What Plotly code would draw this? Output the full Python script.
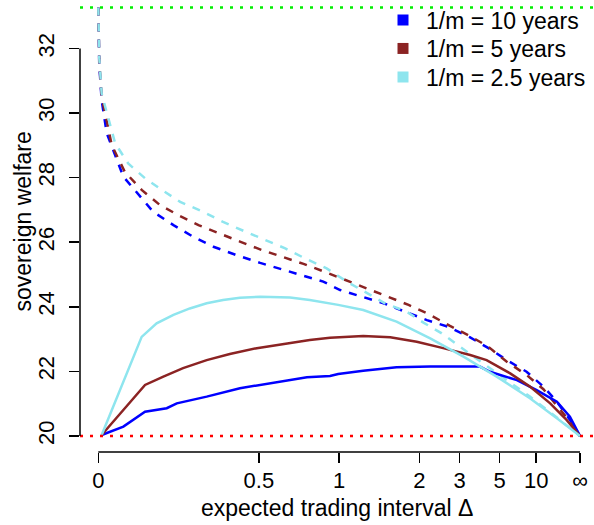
import math
import plotly.graph_objects as go

# ---------------- data ----------------
x_tick_vals = [0, 0.5, 1, 2, 3, 5, 10, float("inf")]
x_tick_text = ["0", "0.5", "1", "2", "3", "5", "10", "∞"]
y_tick_vals = [20, 22, 24, 26, 28, 30, 32]

first_best = 33.27
autarky = 20.0

series_names = ["1/m = 10 years", "1/m = 5 years", "1/m = 2.5 years"]
series_colors = ["#0000FF", "#8B2323", "#8EE5EE"]

# dashed curves (expected trading interval, welfare)
blue_dash_d = [0, 0.002, 0.007, 0.0177, 0.0549, 0.0953, 0.1287, 0.1848, 0.2453, 0.314, 0.4025, 0.506,
               0.7212, 0.8762, 1.008, 1.2075, 1.451, 1.755, 2.145, 2.663, 3.367, 4.263, 5.579, 8.009,
               12.16, 19.83, 46.6, float("inf")]
blue_dash_v = [33.27, 31.5, 30.4, 29.38, 28.03, 27.41, 26.94, 26.53, 26.17, 25.86, 25.60, 25.36,
               24.98, 24.78, 24.52, 24.31, 24.11, 23.85, 23.59, 23.38, 23.06, 22.72, 22.35, 21.99,
               21.53, 21.06, 20.50, 20.0]

brown_dash_d = [0, 0.002, 0.007, 0.0288, 0.0582, 0.0989, 0.1468, 0.199, 0.2626, 0.3316, 0.4164, 0.5129,
                0.6234, 0.7422, 0.9011, 1.278, 1.494, 1.809, 2.175, 2.704, 3.367, 4.263, 5.579, 8.009,
                12.16, 19.83, 46.6, float("inf")]
brown_dash_v = [33.27, 31.6, 30.5, 29.0, 28.18, 27.62, 27.15, 26.84, 26.53, 26.28, 26.02, 25.76,
                25.55, 25.33, 25.06, 24.54, 24.31, 24.06, 23.78, 23.41, 23.10, 22.76, 22.30, 21.89,
                21.45, 20.95, 20.45, 20.0]

cyan_dash_d = [0, 0.002, 0.007, 0.0363, 0.0661, 0.1074, 0.1521, 0.2048, 0.2788, 0.3495, 0.4388, 0.5291,
               0.634, 0.7513, 0.9011, 1.066, 1.469, 1.778, 2.077, 2.484, 3.016, 4.78, 8.615, 19.83,
               float("inf")]
cyan_dash_v = [33.27, 31.7, 30.6, 29.06, 28.44, 27.98, 27.62, 27.25, 26.94, 26.63, 26.33, 26.07,
               25.81, 25.50, 25.19, 24.78, 24.11, 23.85, 23.51, 23.18, 22.76, 21.95, 21.22, 20.57,
               20.0]

# solid curves
blue_solid_d = [0.007, 0.0549, 0.1074, 0.1655, 0.1947, 0.2903, 0.4164, 0.5699, 0.7637, 0.9268, 0.992,
                1.222, 1.625, 2.215, 3.808, 4.348, 6.634, 10.11, 19.83, 46.6, float("inf")]
blue_solid_v = [20.03, 20.29, 20.75, 20.86, 21.01, 21.22, 21.48, 21.65, 21.82, 21.86, 21.92,
                22.02, 22.13, 22.15, 22.15, 21.99, 21.73, 21.42, 21.06, 20.60, 20.0]

brown_solid_d = [0.007, 0.0787, 0.1074, 0.1561, 0.2136, 0.2903, 0.3755, 0.4903, 0.6234, 0.7825, 0.9268,
                 1.222, 1.538, 1.95, 2.521, 3.386, 4.155, 5.897, 8.615, 15.13, 34.7, float("inf")]
brown_solid_v = [20.03, 21.17, 21.58, 21.84, 22.10, 22.35, 22.54, 22.72, 22.85, 22.97, 23.04,
                 23.10, 23.06, 22.92, 22.72, 22.51, 22.35, 21.94, 21.53, 21.01, 20.50, 20.0]

cyan_solid_d = [0.007, 0.0989, 0.1377, 0.1848, 0.2346, 0.2903, 0.3495, 0.4164, 0.506, 0.6051, 0.6611,
                0.7825, 0.992, 1.222, 1.625, 2.215, 3.132, 4.78, 8.615, 19.83, float("inf")]
cyan_solid_v = [20.03, 23.07, 23.49, 23.75, 23.95, 24.11, 24.21, 24.28, 24.31, 24.31, 24.29,
                24.21, 24.06, 23.90, 23.54, 23.02, 22.46, 21.84, 21.17, 20.55, 20.0]

x_title = "expected trading interval Δ"
y_title = "sovereign welfare"


# axis transform: Delta -> Delta / (1 + Delta), infinity -> 1
def pos(d):
    return 1.0 if math.isinf(d) else d / (1.0 + d)


FONT = "Liberation Sans, Arial, sans-serif"
FS = 22
FS_LEG = 23
W, H = 594, 525
ML, MR, MT, MB = 80, 0, 0, 73
PW, PH = W - ML - MR, H - MT - MB

fig = go.Figure()

dash_sets = [(blue_dash_d, blue_dash_v), (brown_dash_d, brown_dash_v), (cyan_dash_d, cyan_dash_v)]
solid_sets = [(blue_solid_d, blue_solid_v), (brown_solid_d, brown_solid_v), (cyan_solid_d, cyan_solid_v)]

for (d, v), col in zip(dash_sets, series_colors):
    fig.add_trace(go.Scatter(x=[pos(t) for t in d], y=v, mode="lines", showlegend=False,
                             line=dict(color=col, width=2.5, dash="8px,8px"), hoverinfo="skip"))
for (d, v), col in zip(solid_sets, series_colors):
    fig.add_trace(go.Scatter(x=[pos(t) for t in d], y=v, mode="lines", showlegend=False,
                             line=dict(color=col, width=2.5), hoverinfo="skip"))

# legend entries (filled squares), one small legend box per row
legend_ids = ["legend", "legend2", "legend3"]
legend_rows_y = [1 - 20 / PH, 1 - 48.5 / PH, 1 - 77 / PH]
for i, (name, col) in enumerate(zip(series_names, series_colors)):
    fig.add_trace(go.Scatter(x=[None], y=[None], mode="markers", name=name, legend=legend_ids[i],
                             marker=dict(symbol="square", size=11, color=col)))

# reference lines
fig.add_hline(y=first_best, line=dict(color="#00EE00", width=2.5, dash="3px,7px"))
fig.add_hline(y=autarky, line=dict(color="#FF0000", width=2.5, dash="3px,7px"))

# R-style axis lines spanning only the tick range
xt = [pos(t) for t in x_tick_vals]
fig.add_shape(type="line", xref="x", yref="paper", x0=min(xt), x1=max(xt), y0=0, y1=0,
              line=dict(color="black", width=1.5))
fig.add_shape(type="line", xref="paper", yref="y", x0=0, x1=0, y0=min(y_tick_vals), y1=max(y_tick_vals),
              line=dict(color="black", width=1.5))

# axis titles
fig.add_annotation(text=x_title, xref="paper", yref="paper", x=0.5, y=-(508 - PH) / PH,
                   xanchor="center", yanchor="middle", showarrow=False, font=dict(size=FS_LEG, family=FONT))
fig.add_annotation(text=y_title, xref="paper", yref="paper", x=(23 - ML) / PW, y=0.51,
                   xanchor="center", yanchor="middle", textangle=-90, showarrow=False,
                   font=dict(size=FS_LEG, family=FONT))

leg_common = dict(x=(380 - ML) / PW, xanchor="left", yanchor="middle", bgcolor="rgba(0,0,0,0)",
                  font=dict(size=FS_LEG, family=FONT), itemwidth=36, borderwidth=0)
fig.update_layout(
    width=W, height=H,
    margin=dict(l=ML, r=MR, t=MT, b=MB, autoexpand=False),
    paper_bgcolor="white", plot_bgcolor="white",
    font=dict(family=FONT, size=FS, color="black"),
    showlegend=True,
    legend=dict(y=legend_rows_y[0], **leg_common),
    legend2=dict(y=legend_rows_y[1], **leg_common),
    legend3=dict(y=legend_rows_y[2], **leg_common),
)
fig.update_xaxes(range=[-0.038, 1.029], tickmode="array", tickvals=xt, ticktext=x_tick_text,
                 ticks="outside", ticklen=10, tickwidth=1.5, tickcolor="black", showline=False,
                 showgrid=False, zeroline=False, tickfont=dict(size=FS), ticklabelstandoff=-1,
                 automargin=False)
fig.update_yaxes(range=[19.505, 33.5], tickmode="array", tickvals=y_tick_vals,
                 ticktext=[str(v) for v in y_tick_vals], tickangle=-90,
                 ticks="outside", ticklen=10, tickwidth=1.5, tickcolor="black", showline=False,
                 showgrid=False, zeroline=False, tickfont=dict(size=FS), ticklabelstandoff=6,
                 automargin=False)

fig.write_html("out.html", config={"displayModeBar": False, "staticPlot": True},
               post_script="document.body.style.margin='0px';document.body.style.overflow='hidden';")
